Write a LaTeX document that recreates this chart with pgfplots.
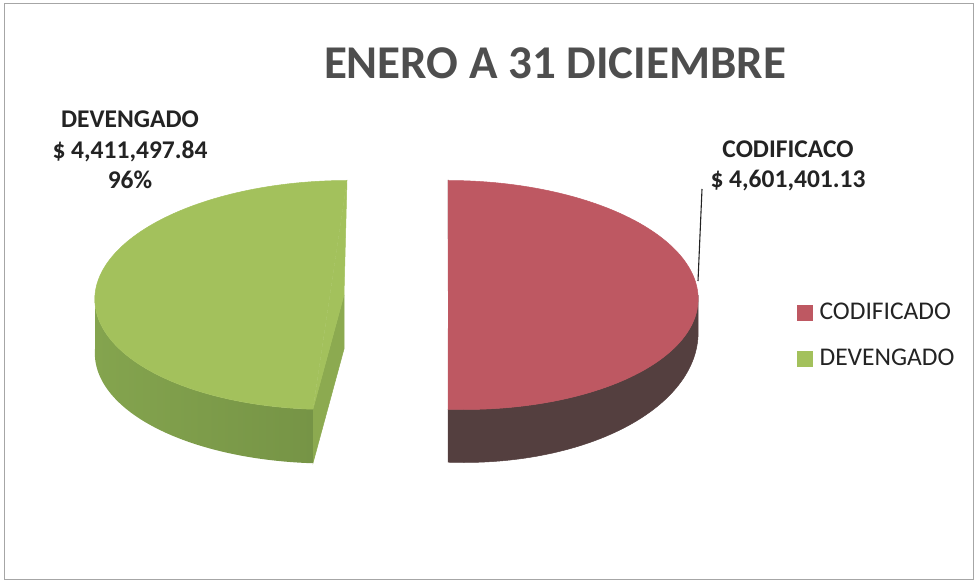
\documentclass[border=0pt]{standalone}
\usepackage{pgfplots}
\pgfplotsset{compat=1.18}
\usepackage{fontspec}
\setmainfont{Carlito}
\definecolor{redtop}{RGB}{190,88,98}
\definecolor{redside}{RGB}{84,63,63}
\definecolor{greentop}{RGB}{163,193,92}
\definecolor{greensideL}{RGB}{132,164,78}
\definecolor{greensideR}{RGB}{118,148,70}
\definecolor{greencut}{RGB}{140,170,80}
\definecolor{titlegray}{RGB}{78,78,78}
\definecolor{txt}{RGB}{35,35,35}
% data
\def\codificado{4601401.13}
\def\devengado{4411497.84}
\pgfkeys{/pgf/fpu=true,/pgf/fpu/output format=fixed}
\pgfmathsetmacro{\sweepG}{360*\devengado/(\codificado+\devengado)}
\pgfmathsetmacro{\sweepR}{360*\codificado/(\codificado+\devengado)}
\pgfkeys{/pgf/fpu=false}
\pgfmathsetmacro{\GA}{90}
\pgfmathsetmacro{\GB}{90+\sweepG}
\pgfmathsetmacro{\RA}{90}
\pgfmathsetmacro{\RB}{90-\sweepR}
% side band parametrisation: t in [0,2.4]; top arc A0->A1 for t<=1.1, bottom arc A1->A0 afterwards
\pgfmathdeclarefunction{angG}{1}{\pgfmathparse{#1<=1.1 ? 180+(\GB-180)*min(#1,1) : \GB-(\GB-180)*min(max(#1-1.2,0),1)}}
\pgfmathdeclarefunction{angR}{1}{\pgfmathparse{#1<=1.1 ? \RB*(1-min(#1,1)) : \RB*min(max(#1-1.2,0),1)}}
\begin{document}
\begin{tikzpicture}
\begin{axis}[
  width=976pt, height=585pt, scale only axis,
  xmin=0, xmax=976, ymin=0, ymax=585, y dir=reverse,
  hide axis, clip=false,
  legend style={draw=none, fill=none, at={(794/976,1-299/585)}, anchor=north west,
     font=\fontsize{25.5}{30}\selectfont\color{txt}, row sep=24pt,
     /tikz/every even column/.append style={column sep=4pt},
     /tikz/every odd column/.append style={column sep=5pt}},
  legend cell align=left,
  legend image code/.code={\fill[#1] (0pt,-7.5pt) rectangle (15pt,7.5pt);},
]
% frame
\addplot[gray!70, line width=0.8pt, forget plot] coordinates {(4,3) (973,3) (973,579) (4,579) (4,3)};
% ---- green (DEVENGADO) slice ----
% cut face (front radius)
\addplot[fill=greencut, draw=greencut, line width=0.5pt, forget plot] coordinates {(344,295) (313,409) (313,463) (344,349) (344,295)};
% side
\addplot[left color=greensideL, right color=greensideR, draw=none, forget plot, domain=0:2.4, samples=241, variable=\t]
 ({347+243*cos(angG(\t)) - 9*(1-sin(angG(\t)))},
  {295-114.5*sin(angG(\t)) + (\t<=1.1 ? 0 : 54)});
% top face
\addplot[fill=greentop, draw=greentop, line width=0.5pt, forget plot, domain=\GA:\GB, samples=120, variable=\t]
 ({347+243*cos(\t) - 9*(1-sin(\t))}, {295-114.5*sin(\t)});
\addplot[fill=greentop, draw=greentop, line width=0.5pt, forget plot] coordinates {(347,180) (344,295) (313,409) (347,180)};
% ---- red (CODIFICADO) slice ----
\addplot[fill=redside, draw=redside, line width=0.5pt, forget plot] coordinates {(448,180) (454,298) (454,352) (448,234) (448,180)};
\addplot[fill=redside, draw=redside, line width=0.5pt, forget plot, domain=0:2.4, samples=241, variable=\t]
 ({448+242*cos(angR(\t)) + 8*(1-sin(angR(\t)))},
  {295-114.5*sin(angR(\t)) + (\t<=1.1 ? 0 : 33-20*sin(angR(\t)))});
\addplot[fill=redtop, draw=redtop, line width=0.5pt, forget plot, domain=\RB:\RA, samples=120, variable=\t]
 ({448+242*cos(\t) + 8*(1-sin(\t))}, {295-114.5*sin(\t)});
\addplot[fill=redtop, draw=redtop, line width=0.5pt, forget plot] coordinates {(448,180) (454,298) (448.5,409) (448,180)};
% leader line
\addplot[txt, line width=1.1pt, forget plot] coordinates {(698,281) (702,189)};
% legend
\addlegendimage{redtop}
\addlegendentry{CODIFICADO}
\addlegendimage{greentop}
\addlegendentry{DEVENGADO}
% texts
\node[font=\fontsize{47}{50}\selectfont\bfseries, text=titlegray] at (axis cs:555,63) {ENERO A 31 DICIEMBRE};
\node[font=\fontsize{25.5}{30.5}\selectfont\bfseries, text=txt, align=center] at (axis cs:130,150) {DEVENGADO\\\$ 4,411,497.84\\96\%};
\node[font=\fontsize{25.5}{30.5}\selectfont\bfseries, text=txt, align=center] at (axis cs:788,166) {CODIFICACO\\\$ 4,601,401.13};
\end{axis}
\pgfresetboundingbox
\useasboundingbox (current axis.south west) rectangle (current axis.north east);
\end{tikzpicture}
\end{document}
